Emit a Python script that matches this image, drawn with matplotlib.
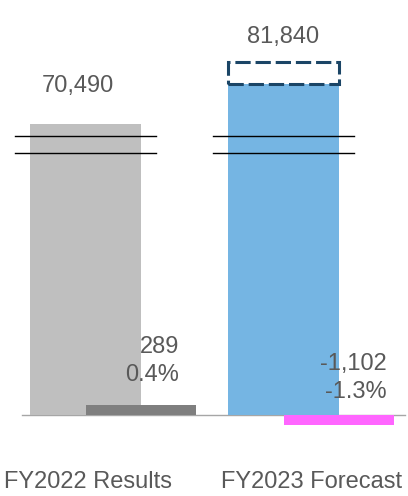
import numpy as np
import matplotlib.pyplot as plt

plt.rcParams['font.family'] = ['Liberation Sans', 'DejaVu Sans']

# data
categories = ['FY2022 Results', 'FY2023 Forecast']
totals = [70490, 81840]
changes = [289, -1102]
change_pct = ['0.4%', '-1.3%']
forecast_box_top = 88200

TEXT = '#595959'
bar_colors = ['#bfbfbf', '#75b5e3']
change_colors = ['#7f7f7f' if v > 0 else '#ff66ff' for v in changes]

# broken y axis: two linear pieces (units -> pixels above baseline)
BREAK_VAL = 64673
BREAK_PX = 270.5
s_low = BREAK_PX / BREAK_VAL
s_high = 40 / 11350


def fwd(v):
    v = np.asarray(v, dtype=float)
    return np.where(v <= BREAK_VAL, v * s_low, BREAK_PX + (v - BREAK_VAL) * s_high)


def inv(p):
    p = np.asarray(p, dtype=float)
    return np.where(p <= BREAK_PX, p / s_low, BREAK_VAL + (p - BREAK_PX) / s_high)


fig = plt.figure(figsize=(4.08, 4.96), dpi=100)
ax = fig.add_axes([0, 0, 1, 1])
ax.set_yscale('function', functions=(fwd, inv))
ax.set_ylim(float(inv(-81)), float(inv(415)))
ax.set_xlim(-85.5 / 198, (408 - 85.5) / 198)
ax.axis('off')

x = np.arange(len(categories))
w = 0.56

ax.bar(x, totals, width=w, color=bar_colors, zorder=2)
ax.bar(x[1], forecast_box_top - totals[1], bottom=totals[1], width=w,
       fill=False, edgecolor='#1b4566', linewidth=2.2,
       linestyle=(0, (5, 1.6)), zorder=3)

# baseline
ax.axhline(0, xmin=22 / 408, xmax=405 / 408, color='#a6a6a6', lw=1, zorder=1)

# break marks
for xi in x:
    for p in (BREAK_PX - 8.5, BREAK_PX + 8.5):
        yv = float(inv(p))
        ax.plot([xi - 0.356, xi + 0.356], [yv, yv], color='black', lw=1.0, zorder=4)

# total labels
ax.annotate(f'{totals[0]:,}', xy=(x[0], totals[0]), xytext=(-7.5, 38),
            textcoords='offset pixels', ha='center', va='center',
            fontsize=17, color=TEXT)
ax.annotate(f'{totals[1]:,}', xy=(x[1], forecast_box_top), xytext=(0, 25),
            textcoords='offset pixels', ha='center', va='center',
            fontsize=17, color=TEXT)

# category labels
for xi, lab, dx in zip(x, categories, [2.5, 28.5]):
    ax.annotate(lab, xy=(xi, 0), xytext=(dx, -67), textcoords='offset pixels',
                ha='center', va='center', fontsize=17, color=TEXT)

# change bars (fixed small height, direction from sign)
ax2 = ax.twinx()
ax2.set_ylim(-8.1, 41.5)
ax2.axis('off')
ax2.bar(x + w / 2, np.sign(changes), width=w, color=change_colors, zorder=2)

for xi, v, pct in zip(x, changes, change_pct):
    if v > 0:
        xy, dx, dy = (xi + w / 2, 1), 38, 44
    else:
        xy, dx, dy = (xi + w / 2, 0), 48, 37
    ax2.annotate(f'{v:,}\n{pct}', xy=xy, xytext=(dx, dy),
                 textcoords='offset pixels', ha='right', va='center',
                 multialignment='right', linespacing=1.32,
                 fontsize=17, color=TEXT)

fig.savefig('out.png', dpi=100)
